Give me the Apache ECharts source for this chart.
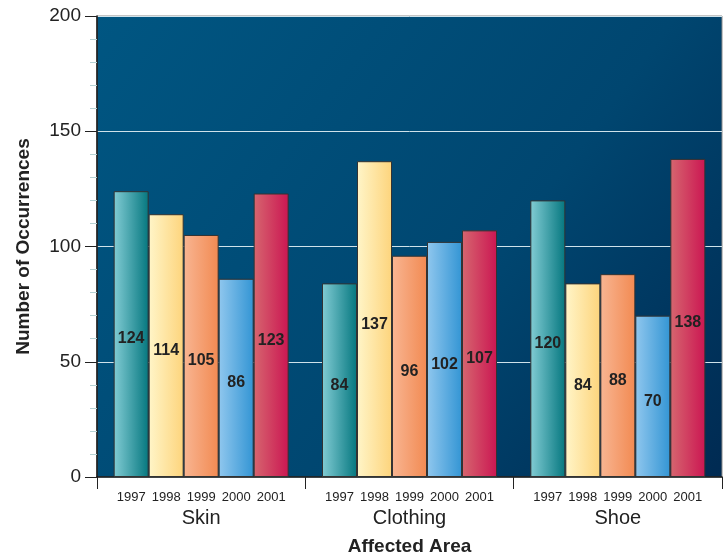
<!DOCTYPE html>
<html>
<head>
<meta charset="utf-8">
<script src="https://cdn.jsdelivr.net/npm/echarts@6/dist/echarts.min.js"></script>
<style>
  html, body { margin: 0; padding: 0; background: #ffffff; }
  #chart { width: 726px; height: 556px; }
</style>
</head>
<body>
<div id="chart"></div>
<script>
// Affected areas on the category axis
const areas = ['Skin', 'Clothing', 'Shoe'];
// One series per year
const years = ['1997', '1998', '1999', '2000', '2001'];
// Occurrences per year, in the order Skin, Clothing, Shoe
const values1997 = [124, 84, 120];
const values1998 = [114, 137, 84];
const values1999 = [105, 96, 88];
const values2000 = [86, 102, 70];
const values2001 = [123, 107, 138];
// Value axis ticks
const yTicks = [0, 50, 100, 150, 200];

const yearValues = [values1997, values1998, values1999, values2000, values2001];

// Left (light) -> right (dark) shading for each year's bars
const barShades = [
  ['#82ccd4', '#05777f'],
  ['#fff5c8', '#fdd47c'],
  ['#f8b592', '#f28a52'],
  ['#90c7ee', '#3395d4'],
  ['#d6666f', '#cb1652']
];

const FONT = 'Liberation Sans, Arial, sans-serif';

function shade(pair) {
  return new echarts.graphic.LinearGradient(0, 0, 1, 0, [
    { offset: 0, color: pair[0] },
    { offset: 1, color: pair[1] }
  ]);
}

const series = [];
years.forEach(function (yr, i) {
  // Visible bars with the value in the middle
  series.push({
    name: yr,
    type: 'bar',
    xAxisIndex: 0,
    data: yearValues[i],
    barGap: '0%',
    barCategoryGap: '16%',
    itemStyle: { color: shade(barShades[i]), borderColor: '#333333', borderWidth: 1 },
    label: {
      show: true,
      position: 'inside',
      offset: [0, 5],
      color: '#222222',
      fontFamily: FONT,
      fontWeight: 'bold',
      fontSize: 16
    },
    emphasis: { disabled: true },
    z: 3
  });
  // Transparent twin bars that carry the year label under each bar
  series.push({
    name: yr + ' label',
    type: 'bar',
    xAxisIndex: 1,
    data: yearValues[i],
    barGap: '0%',
    barCategoryGap: '16%',
    itemStyle: { color: 'rgba(0,0,0,0)' },
    label: {
      show: true,
      position: 'insideBottom',
      distance: 0,
      offset: [0, 27],
      formatter: yr,
      color: '#222222',
      fontFamily: FONT,
      fontSize: 13
    },
    emphasis: { disabled: true },
    silent: true,
    z: 2
  });
});

const chart = echarts.init(document.getElementById('chart'), null, { renderer: 'canvas' });
chart.setOption({
  animation: false,
  backgroundColor: '#ffffff',
  grid: {
    left: 97, right: 4, top: 16, bottom: 79,
    containLabel: false,
    outerBoundsMode: 'none',
    show: true,
    borderColor: '#8a8a8a',
    borderWidth: 1,
    backgroundColor: new echarts.graphic.LinearGradient(0, 0, 1, 1, [
      { offset: 0, color: '#005682' },
      { offset: 0.6, color: '#004670' },
      { offset: 1, color: '#002a52' }
    ])
  },
  xAxis: [
    {
      type: 'category',
      data: areas,
      axisLine: { lineStyle: { color: '#111111', width: 1.5 } },
      axisTick: { show: true, length: 12, lineStyle: { color: '#222222' } },
      axisLabel: { margin: 31, color: '#222222', fontFamily: FONT, fontSize: 20 },
      name: 'Affected Area',
      nameLocation: 'middle',
      nameGap: 60,
      nameTextStyle: { color: '#222222', fontFamily: FONT, fontSize: 19, fontWeight: 'bold' },
      splitLine: { show: false }
    },
    {
      type: 'category',
      data: areas,
      show: false
    }
  ],
  yAxis: {
    type: 'value',
    min: yTicks[0],
    max: yTicks[yTicks.length - 1],
    interval: 50,
    axisLine: { show: true, lineStyle: { color: '#111111', width: 1.5 } },
    axisTick: { show: true, length: 12, lineStyle: { color: '#222222' } },
    minorTick: { show: true, splitNumber: 5, length: 7, lineStyle: { color: '#b5d2d4' } },
    axisLabel: { margin: 16, color: '#222222', fontFamily: FONT, fontSize: 19 },
    splitLine: { show: true, lineStyle: { color: '#cfe2ea', width: 1 } },
    name: 'Number of Occurrences',
    nameLocation: 'middle',
    nameGap: 64,
    nameTextStyle: { color: '#222222', fontFamily: FONT, fontSize: 19, fontWeight: 'bold' }
  },
  series: series
});
</script>
</body>
</html>
